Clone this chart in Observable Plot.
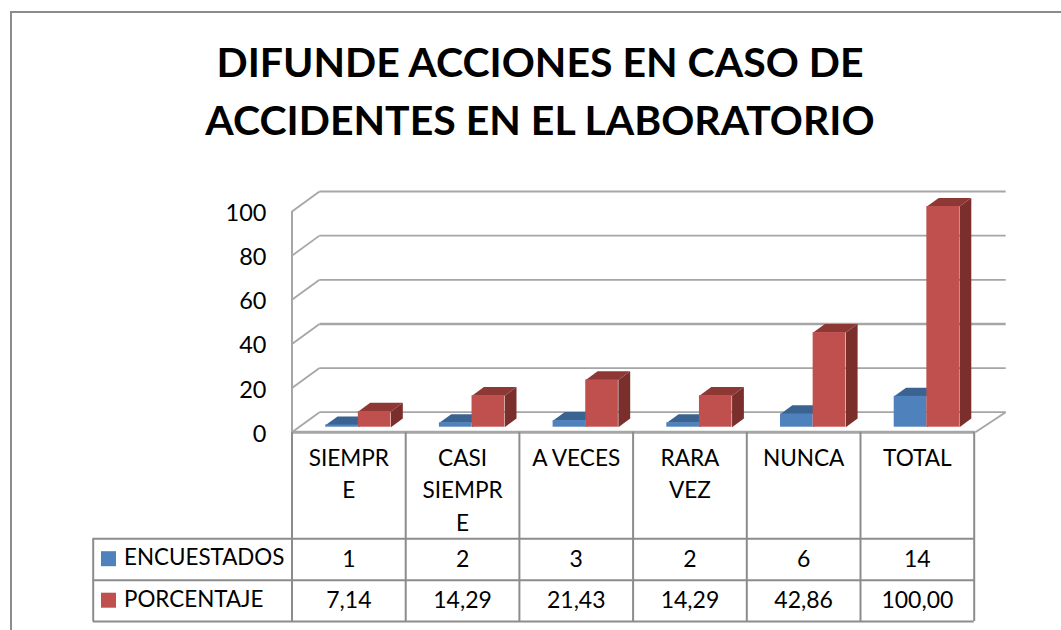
<!DOCTYPE html>
<html>
<head>
<meta charset="utf-8">
<script src="https://cdn.jsdelivr.net/npm/d3@7"></script>
<script src="https://cdn.jsdelivr.net/npm/@observablehq/plot@0.6"></script>
<style>
  html, body { margin: 0; padding: 0; background: #fff; width: 1061px; height: 630px; overflow: hidden; }
  #frame { position: absolute; left: 10px; top: 11px; width: 1051px; height: 619px; border-top: 2px solid #8c8c8c; border-left: 2px solid #8c8c8c; box-sizing: border-box; }
  #title { position: absolute; left: 0; top: 33px; width: 1080px; text-align: center; font: bold 41px/58px Lato, sans-serif; color: #000; white-space: pre; }
  #chart { position: absolute; left: 0; top: 170px; }
  #chart svg { background: transparent; }
</style>
</head>
<body>
<div id="frame"></div>
<div id="title">DIFUNDE ACCIONES EN CASO DE
ACCIDENTES EN EL LABORATORIO</div>
<div id="chart"></div>
<script>
// ---- data -----------------------------------------------------------
const categories = ["SIEMPR\nE", "CASI\nSIEMPR\nE", "A VECES", "RARA\nVEZ", "NUNCA", "TOTAL"];
const encuestados = [1, 2, 3, 2, 6, 14];
const porcentaje = [7.14, 14.29, 21.43, 14.29, 42.86, 100];
const yTicks = [0, 20, 40, 60, 80, 100];
const seriesNames = ["ENCUESTADOS", "PORCENTAJE"];

// ---- look -----------------------------------------------------------
const blue = {front: "#4f81bd", top: "#3b6392", side: "#335680"};
const red = {front: "#c0504d", top: "#8e3836", side: "#7a2f2d"};
const gridColor = "#a6a6a6";
const tableColor = "#8c8c8c";
const font = "Lato, sans-serif";

// ---- oblique projection, in data units -------------------------------
const depthX = 0.2419, depthY = 9.06;   // one full floor depth
const barNear = 0.25, barFar = 0.68;    // where the bars sit in that depth
const pxPerUnit = 2.207, pxPerCat = 113.7;
const P = (c, v, d) => ({x: c + d * depthX, y: v + d * depthY});
const below = (px) => -px / pxPerUnit;         // table rows: px below the baseline
const leftOf = (px) => -px / pxPerCat;         // legend cells: px left of the axis

function faces(values, from, to, colors, key) {
  return values.flatMap((v, i) => {
    const a = i + from, b = i + to;
    const side = [P(b, 0, barNear), P(b, 0, barFar), P(b, v, barFar), P(b, v, barNear)];
    const top = [P(a, v, barNear), P(a, v, barFar), P(b, v, barFar), P(b, v, barNear)];
    return [
      ...side.map((p) => ({...p, id: key + i + "s", color: colors.side})),
      ...top.map((p) => ({...p, id: key + i + "t", color: colors.top}))
    ];
  });
}
const fronts = (values, from, to) => values.map((v, i) => ({
  x1: P(i + from, 0, barNear).x, x2: P(i + to, 0, barNear).x,
  y1: P(0, 0, barNear).y, y2: P(0, v, barNear).y
}));

const bx = [0.236, 0.523, 0.81];
const endX = 6.01, backEndX = 6.035;
const rowLines = [106.6, 148, 189.3];
const rowMid = [127, 168.5];
const cols = d3.range(7);

const chart = Plot.plot({
  width: 1061, height: 460,
  marginTop: 41, marginBottom: 198.3, marginLeft: 291.5, marginRight: 87.3,
  x: {domain: [0, 6], axis: null},
  y: {domain: [0, 100], axis: null},
  color: {type: "identity"},
  marks: [
    // back wall grid
    Plot.link(yTicks, {x1: () => P(0, 0, 1).x, x2: () => P(backEndX, 0, 0).x + depthX,
      y1: (v) => P(0, v, 1).y, y2: (v) => P(0, v, 1).y, stroke: gridColor, strokeWidth: (v) => v === 40 ? 2.4 : 1.8}),
    // left wall slants
    Plot.link(yTicks, {x1: () => 0, x2: () => P(0, 0, 1).x,
      y1: (v) => v, y2: (v) => P(0, v, 1).y, stroke: gridColor, strokeWidth: 1.8}),
    // floor right slant
    Plot.link([0], {x1: () => endX, x2: () => P(backEndX, 0, 1).x, y1: () => 0, y2: () => P(0, 0, 1).y, stroke: gridColor, strokeWidth: 1.8}),
    // left wall axis
    Plot.ruleX([0], {y1: 0, y2: 100, stroke: gridColor, strokeWidth: 2}),
    // bars
    Plot.line(faces(encuestados, bx[0], bx[1], blue, "b"), {x: "x", y: "y", z: "id", fill: "color", stroke: "none"}),
    Plot.rect(fronts(encuestados, bx[0], bx[1]), {x1: "x1", x2: "x2", y1: "y1", y2: "y2", fill: blue.front}),
    Plot.line(faces(porcentaje, bx[1], bx[2], red, "r"), {x: "x", y: "y", z: "id", fill: "color", stroke: "none"}),
    Plot.rect(fronts(porcentaje, bx[1], bx[2]), {x1: "x1", x2: "x2", y1: "y1", y2: "y2", fill: red.front}),
    // baseline
    Plot.ruleY([0], {x1: 0, x2: endX, stroke: gridColor, strokeWidth: 3}),
    // y axis labels
    Plot.axisY(yTicks, {anchor: "left", tickSize: 0, tickPadding: 25.5, fontSize: 23.5, fontFamily: font, dy: 2, label: null, fill: "#000"}),
    // data table
    Plot.ruleX(cols, {y1: 0, y2: below(rowLines[2]), stroke: tableColor, strokeWidth: 2}),
    Plot.ruleY(rowLines.slice(0, 3), {y: (r) => below(r), x1: leftOf(198.8), x2: 6, stroke: tableColor, strokeWidth: 2}),
    Plot.ruleX([leftOf(198.8)], {y1: below(rowLines[0]), y2: below(rowLines[2]), stroke: tableColor, strokeWidth: 2}),
    Plot.text(categories, {x: (d, i) => i + 0.5, y: () => below(11), text: (d) => d, lineAnchor: "top",
      fontSize: 22.6, lineHeight: 1.43, fontFamily: font, fill: "#000"}),
    Plot.text(encuestados, {x: (d, i) => i + 0.5, y: () => below(rowMid[0]), text: (d) => String(d),
      fontSize: 23, fontFamily: font, fill: "#000"}),
    Plot.text(porcentaje, {x: (d, i) => i + 0.5, y: () => below(rowMid[1]), text: (d) => d.toFixed(2).replace(".", ","),
      fontSize: 23, fontFamily: font, fill: "#000"}),
    // legend keys in the table
    Plot.rect(seriesNames, {x1: () => leftOf(190.5), x2: () => leftOf(175.5),
      y1: (d, i) => below(rowMid[i] - 7.5 ), y2: (d, i) => below(rowMid[i] + 7.5),
      fill: (d, i) => [blue.front, red.front][i]}),
    Plot.text(seriesNames, {x: () => leftOf(168), y: (d, i) => below(rowMid[i] - 1), text: (d) => d, textAnchor: "start",
      fontSize: 22.4, fontFamily: font, fill: "#000"})
  ]
});
document.getElementById("chart").appendChild(chart);
</script>
</body>
</html>
